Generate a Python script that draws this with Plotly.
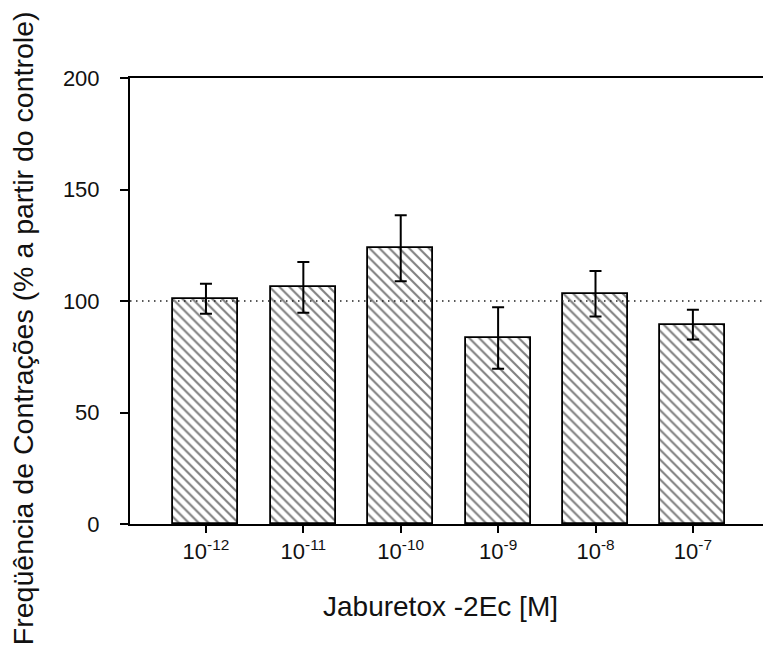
import plotly.graph_objects as go

concentrations = ["10<sup>-12</sup>", "10<sup>-11</sup>", "10<sup>-10</sup>",
                  "10<sup>-9</sup>", "10<sup>-8</sup>", "10<sup>-7</sup>"]
frequency = [101.0, 106.1, 123.7, 83.4, 103.2, 89.4]
error = [6.7, 11.4, 14.8, 13.8, 10.2, 6.7]
y_ticks = [0, 50, 100, 150, 200]
control = 100

FONT = "Liberation Sans, Arial, sans-serif"
positions = list(range(len(concentrations)))

fig = go.Figure()
fig.add_trace(go.Bar(
    x=positions, y=frequency, width=0.667,
    marker=dict(color="white",
                line=dict(color="black", width=1.8),
                pattern=dict(shape="\\", size=7, solidity=0.3,
                             fgcolor="black", bgcolor="white", fillmode="overlay")),
    error_y=dict(type="data", array=error, visible=True,
                 color="black", thickness=2, width=6),
    showlegend=False,
))

fig.add_hline(y=control, line=dict(color="#222222", width=1.5, dash="1.5px,4.5px"))

fig.update_layout(
    width=764, height=648,
    margin=dict(l=130, r=1, t=78, b=124),
    paper_bgcolor="white", plot_bgcolor="white",
    font=dict(family=FONT, color="#111111"),
    bargap=0,
    xaxis=dict(
        range=[-0.78, 5.72],
        tickmode="array", tickvals=positions, ticktext=concentrations,
        showline=True, linecolor="black", linewidth=2, mirror=True,
        ticks="outside", ticklen=7, tickwidth=2, tickcolor="black",
        showgrid=False, zeroline=False,
        tickfont=dict(size=22, family=FONT, color="#111111"),
    ),
    yaxis=dict(
        range=[0, 200],
        tickmode="array", tickvals=y_ticks,
        showline=True, linecolor="black", linewidth=2, mirror=False,
        ticks="outside", ticklen=8, tickwidth=2, tickcolor="black",
        showgrid=False, zeroline=False,
        tickfont=dict(size=22, family=FONT, color="#111111"),
        ticklabelstandoff=16,
    ),
    annotations=[
        dict(text="Jaburetox -2Ec [M]", xref="paper", yref="paper",
             x=0.491, y=-0.145, xanchor="center", yanchor="top",
             showarrow=False, font=dict(size=28, family=FONT, color="#111111")),
        dict(text="Freqüência de Contrações (% a partir do controle)",
             xref="paper", yref="paper", x=-0.17, y=0.44,
             xanchor="center", yanchor="middle", textangle=-90,
             showarrow=False, font=dict(size=28.5, family=FONT, color="#111111")),
    ],
)

fig.write_html("out.html")
